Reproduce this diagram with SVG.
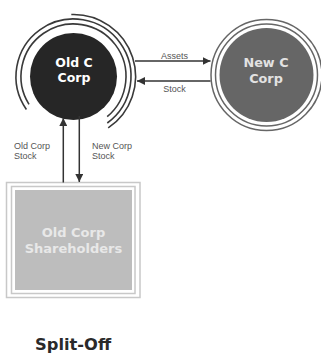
<svg xmlns="http://www.w3.org/2000/svg" width="321" height="354" viewBox="0 0 321 354">
  <style>
    .flow { stroke: #333; stroke-width: 1.5; fill: none; }
    .ring { stroke: #3a3a3a; stroke-width: 1.6; fill: none; }
    .lbl { font-family: "Liberation Sans", Arial, sans-serif; font-size: 9px; fill: #555; }
    .title { font-family: "DejaVu Sans", sans-serif; font-weight: bold; }
  </style>
  <defs>
    <marker id="head" markerUnits="userSpaceOnUse" markerWidth="8" markerHeight="8" refX="8" refY="4" orient="auto">
      <path d="M0,0 L8,4 L0,8 z" fill="#333"/>
    </marker>
  </defs>

  <rect width="321" height="354" fill="#fff"/>

  <!-- Old C Corp: dark disc with ripple arcs -->
  <g id="old-c-corp">
    <circle cx="73.5" cy="76.5" r="43.5" fill="#262626"/>
    <path class="ring" d="M71.3,14.5 A62,62 0 0 1 108.2,127.9"/>
    <path class="ring" d="M26.4,109.5 A57.5,57.5 0 1 1 107.3,123"/>
    <path class="ring" d="M29,104.3 A52.5,52.5 0 1 1 107.2,116.7"/>
    <text class="title" x="74" y="67" font-size="12.5" fill="#fff" text-anchor="middle">Old C</text>
    <text class="title" x="74" y="82" font-size="12.5" fill="#fff" text-anchor="middle">Corp</text>
  </g>

  <!-- New C Corp: grey disc inside two rings -->
  <g id="new-c-corp">
    <circle cx="266.5" cy="75" r="55.5" fill="none" stroke="#666" stroke-width="1.5"/>
    <circle cx="266.5" cy="75" r="51" fill="none" stroke="#666" stroke-width="1.5"/>
    <circle cx="266.5" cy="75" r="47" fill="#666"/>
    <text class="title" x="266" y="67.3" font-size="12.8" fill="#e2e2e2" text-anchor="middle">New C</text>
    <text class="title" x="266" y="82.5" font-size="12.8" fill="#e2e2e2" text-anchor="middle">Corp</text>
  </g>

  <!-- Old Corp Shareholders: framed grey box -->
  <g id="old-corp-shareholders">
    <rect x="6.5" y="182.5" width="133.5" height="115" fill="none" stroke="#c8c8c8" stroke-width="1.5"/>
    <rect x="11.5" y="186.5" width="123.5" height="107" fill="none" stroke="#c8c8c8" stroke-width="1.5"/>
    <rect x="15" y="190" width="117" height="100" fill="#bdbdbd"/>
    <text class="title" x="73.5" y="236.5" font-size="13" fill="#e8e8e8" text-anchor="middle">Old Corp</text>
    <text class="title" x="73.5" y="252.5" font-size="13" fill="#e8e8e8" text-anchor="middle">Shareholders</text>
  </g>

  <!-- exchanges between the parties -->
  <g id="connectors">
    <line class="flow" x1="135" y1="61" x2="210.5" y2="61" marker-end="url(#head)"/>
    <line class="flow" x1="210.5" y1="81" x2="137" y2="81" marker-end="url(#head)"/>
    <line class="flow" x1="63.3" y1="182.5" x2="63.3" y2="118" marker-end="url(#head)"/>
    <line class="flow" x1="79.3" y1="116" x2="79.3" y2="182" marker-end="url(#head)"/>
    <text class="lbl" x="174.5" y="58.5" text-anchor="middle">Assets</text>
    <text class="lbl" x="174.5" y="91.5" text-anchor="middle">Stock</text>
    <text class="lbl" x="14" y="148.5">Old Corp</text>
    <text class="lbl" x="14" y="158.5">Stock</text>
    <text class="lbl" x="92" y="148.5">New Corp</text>
    <text class="lbl" x="92" y="158.5">Stock</text>
  </g>

  <text class="title" x="35" y="350" font-size="16.3" fill="#2a2a2a">Split-Off</text>
</svg>
